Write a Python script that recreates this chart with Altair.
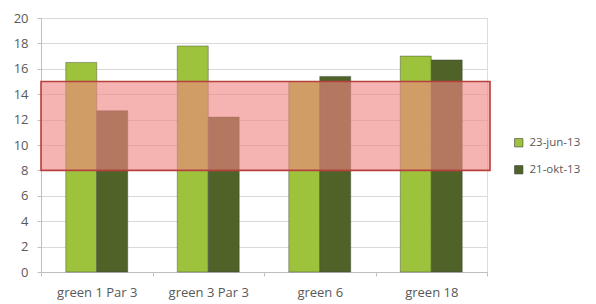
import altair as alt
import pandas as pd

categories = ["green 1 Par 3", "green 3 Par 3", "green 6", "green 18"]
series_names = ["23-jun-13", "21-okt-13"]
jun_values = [16.5, 17.8, 15.0, 17.0]
okt_values = [12.7, 12.2, 15.4, 16.7]
band_low = [8]
band_high = [15]
y_ticks = [0, 2, 4, 6, 8, 10, 12, 14, 16, 18, 20]

rows = []
for c, v in zip(categories, jun_values):
    rows.append({"cat": c, "series": series_names[0], "value": v})
for c, v in zip(categories, okt_values):
    rows.append({"cat": c, "series": series_names[1], "value": v})
df = pd.DataFrame(rows)
band_df = pd.DataFrame({"lo": band_low, "hi": band_high})

font = "Open Sans"
txt = "#595959"
fs = 13

y_axis = alt.Axis(values=y_ticks, tickSize=4, labelOverlap=False,
                  tickColor="#bfbfbf", domainColor="#bfbfbf",
                  gridColor="#d9d9d9", labelPadding=9,
                  labelFontSize=fs, labelFont=font, labelColor=txt)
y_scale = alt.Scale(domain=[0, 20], nice=False)

bars = alt.Chart(df).mark_bar(
    stroke="#3a3a3a", strokeWidth=0.6, strokeOpacity=0.7
).encode(
    x=alt.X("cat:N", sort=categories, title=None,
            scale=alt.Scale(paddingInner=0, paddingOuter=0),
            axis=alt.Axis(labelAngle=0, tickBand="extent", tickSize=4,
                          tickColor="#bfbfbf", domainColor="#bfbfbf",
                          labelPadding=10, labelFontSize=fs, labelFont=font,
                          labelColor=txt, grid=False)),
    xOffset=alt.XOffset("series:N", sort=series_names,
                        scale=alt.Scale(paddingInner=0, paddingOuter=0.8)),
    y=alt.Y("value:Q", title=None, scale=y_scale, axis=y_axis),
    color=alt.Color("series:N", sort=series_names,
                    scale=alt.Scale(domain=series_names,
                                    range=["#9dc33c", "#4f6228"]),
                    legend=alt.Legend(title=None, orient="none",
                                      legendX=472, legendY=119,
                                      symbolType="square", symbolSize=70,
                                      symbolStrokeColor="#3a3a3a",
                                      symbolStrokeWidth=0.6,
                                      labelOffset=5,
                                      rowPadding=14, labelFontSize=11.5,
                                      labelFont=font, labelColor=txt)),
)

band = alt.Chart(band_df).mark_rect(
    fill="#ef8682", fillOpacity=0.62, stroke="#b8403c", strokeWidth=1.6
).encode(
    x=alt.value(0),
    x2=alt.value(449),
    y=alt.Y("lo:Q", title=None, scale=y_scale, axis=y_axis),
    y2="hi:Q",
)

chart = alt.layer(bars, band).properties(
    width=446, height=254,
    autosize=alt.AutoSizeParams(type="none"),
    padding={"left": 33, "top": 10, "right": 101, "bottom": 32},
).configure_view(stroke=None).configure(background="white")

chart.save("out.html", embed_options={"renderer": "svg", "actions": False})
